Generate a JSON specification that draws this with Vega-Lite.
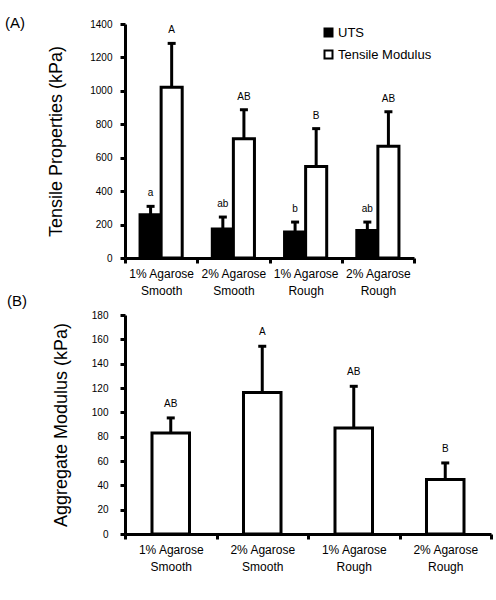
{
  "$schema": "https://vega.github.io/schema/vega-lite/v6.json",
  "padding": {"left": 5, "top": 16, "right": 5, "bottom": 5},
  "background": "white",
  "bounds": "flush",
  "spacing": 57,
  "config": {
    "font": "Liberation Sans",
    "view": {"stroke": null},
    "axis": {
      "domainColor": "black",
      "domainWidth": 3,
      "tickColor": "black",
      "tickWidth": 3,
      "tickSize": 5,
      "labelColor": "black",
      "labelFontSize": 10,
      "labelOverlap": false,
      "labelFlush": false,
      "grid": false,
      "titleColor": "black",
      "titleFontWeight": "normal",
      "titleFontSize": 18
    },
    "title": {"fontSize": 15, "fontWeight": "normal", "color": "black", "anchor": "start", "frame": "group"}
  },
  "vconcat": [
    {
      "title": {"text": "(A)", "dx": -120, "offset": -12},
      "width": 289,
      "height": 234,
      "data": {"values": [
        {"group": "1% Agarose|Smooth", "measure": "UTS", "value": 259, "top": 309, "letter": "a"},
        {"group": "1% Agarose|Smooth", "measure": "Tensile Modulus", "value": 1021, "top": 1284, "letter": "A"},
        {"group": "2% Agarose|Smooth", "measure": "UTS", "value": 173, "top": 245, "letter": "ab"},
        {"group": "2% Agarose|Smooth", "measure": "Tensile Modulus", "value": 714, "top": 887, "letter": "AB"},
        {"group": "1% Agarose|Rough", "measure": "UTS", "value": 156, "top": 215, "letter": "b"},
        {"group": "1% Agarose|Rough", "measure": "Tensile Modulus", "value": 548, "top": 774, "letter": "B"},
        {"group": "2% Agarose|Rough", "measure": "UTS", "value": 164, "top": 215, "letter": "ab"},
        {"group": "2% Agarose|Rough", "measure": "Tensile Modulus", "value": 668, "top": 875, "letter": "AB"}
      ]},
      "encoding": {
        "x": {
          "field": "group", "type": "nominal",
          "sort": ["1% Agarose|Smooth", "2% Agarose|Smooth", "1% Agarose|Rough", "2% Agarose|Rough"],
          "scale": {"paddingInner": 0, "paddingOuter": 0},
          "axis": {"title": null, "labelAngle": 0, "labelFontSize": 12, "labelLineHeight": 17, "labelPadding": 5, "tickBand": "extent", "labelExpr": "split(datum.label, '|')"}
        },
        "xOffset": {"field": "measure", "type": "nominal", "sort": ["UTS", "Tensile Modulus"], "scale": {"paddingInner": 0, "paddingOuter": 0.714}}
      },
      "layer": [
        {
          "mark": {"type": "bar", "stroke": "black", "strokeWidth": 3},
          "encoding": {
            "y": {"field": "value", "type": "quantitative", "scale": {"domain": [0, 1400]},
              "axis": {"title": "Tensile Properties (kPa)", "values": [0, 200, 400, 600, 800, 1000, 1200, 1400], "format": "d", "labelPadding": 8, "titlePadding": 24}},
            "fill": {"field": "measure", "type": "nominal",
              "scale": {"domain": ["UTS", "Tensile Modulus"], "range": ["black", "white"]},
              "legend": {"title": null, "orient": "none", "legendX": 197, "legendY": 2, "symbolType": "square", "symbolSize": 64, "symbolStrokeColor": "black", "symbolStrokeWidth": 2, "labelFontSize": 13, "labelColor": "black", "labelOffset": 3, "rowPadding": 5, "labelLimit": 200}}
          }
        },
        {
          "mark": {"type": "rule", "stroke": "black", "strokeWidth": 3},
          "encoding": {"y": {"field": "value", "type": "quantitative",
              "axis": {"title": "Tensile Properties (kPa)", "values": [0, 200, 400, 600, 800, 1000, 1200, 1400], "format": "d", "labelPadding": 8, "titlePadding": 24}}, "y2": {"field": "top"}}
        },
        {
          "mark": {"type": "tick", "color": "black", "thickness": 3, "size": 8, "opacity": 1},
          "encoding": {"y": {"field": "top", "type": "quantitative",
              "axis": {"title": "Tensile Properties (kPa)", "values": [0, 200, 400, 600, 800, 1000, 1200, 1400], "format": "d", "labelPadding": 8, "titlePadding": 24}}}
        },
        {
          "mark": {"type": "text", "baseline": "bottom", "dy": -8, "fontSize": 10, "color": "black"},
          "encoding": {"y": {"field": "top", "type": "quantitative",
              "axis": {"title": "Tensile Properties (kPa)", "values": [0, 200, 400, 600, 800, 1000, 1200, 1400], "format": "d", "labelPadding": 8, "titlePadding": 24}}, "text": {"field": "letter"}}
        }
      ]
    },
    {
      "title": {"text": "(B)", "dx": -118, "offset": 1},
      "width": 366,
      "height": 219,
      "data": {"values": [
        {"group": "1% Agarose|Smooth", "value": 83, "top": 95.4, "letter": "AB"},
        {"group": "2% Agarose|Smooth", "value": 116.4, "top": 154.3, "letter": "A"},
        {"group": "1% Agarose|Rough", "value": 87.1, "top": 121.4, "letter": "AB"},
        {"group": "2% Agarose|Rough", "value": 44.7, "top": 58.4, "letter": "B"}
      ]},
      "encoding": {
        "x": {
          "field": "group", "type": "nominal",
          "sort": ["1% Agarose|Smooth", "2% Agarose|Smooth", "1% Agarose|Rough", "2% Agarose|Rough"],
          "scale": {"paddingInner": 0, "paddingOuter": 0},
          "axis": {"title": null, "labelAngle": 0, "labelFontSize": 12, "labelLineHeight": 17, "labelPadding": 5, "tickBand": "extent", "labelExpr": "split(datum.label, '|')"}
        }
      },
      "layer": [
        {
          "mark": {"type": "bar", "stroke": "black", "strokeWidth": 3, "fill": "white", "width": {"band": 0.41}},
          "encoding": {
            "y": {"field": "value", "type": "quantitative", "scale": {"domain": [0, 180]},
              "axis": {"title": "Aggregate Modulus (kPa)", "values": [0, 20, 40, 60, 80, 100, 120, 140, 160, 180], "format": "d", "labelPadding": 12, "titlePadding": 21}}
          }
        },
        {
          "mark": {"type": "rule", "stroke": "black", "strokeWidth": 3},
          "encoding": {"y": {"field": "value", "type": "quantitative",
              "axis": {"title": "Aggregate Modulus (kPa)", "values": [0, 20, 40, 60, 80, 100, 120, 140, 160, 180], "format": "d", "labelPadding": 12, "titlePadding": 21}}, "y2": {"field": "top"}}
        },
        {
          "mark": {"type": "tick", "color": "black", "thickness": 3, "size": 8, "opacity": 1},
          "encoding": {"y": {"field": "top", "type": "quantitative",
              "axis": {"title": "Aggregate Modulus (kPa)", "values": [0, 20, 40, 60, 80, 100, 120, 140, 160, 180], "format": "d", "labelPadding": 12, "titlePadding": 21}}}
        },
        {
          "mark": {"type": "text", "baseline": "bottom", "dy": -9, "fontSize": 10, "color": "black"},
          "encoding": {"y": {"field": "top", "type": "quantitative",
              "axis": {"title": "Aggregate Modulus (kPa)", "values": [0, 20, 40, 60, 80, 100, 120, 140, 160, 180], "format": "d", "labelPadding": 12, "titlePadding": 21}}, "text": {"field": "letter"}}
        }
      ]
    }
  ]
}
